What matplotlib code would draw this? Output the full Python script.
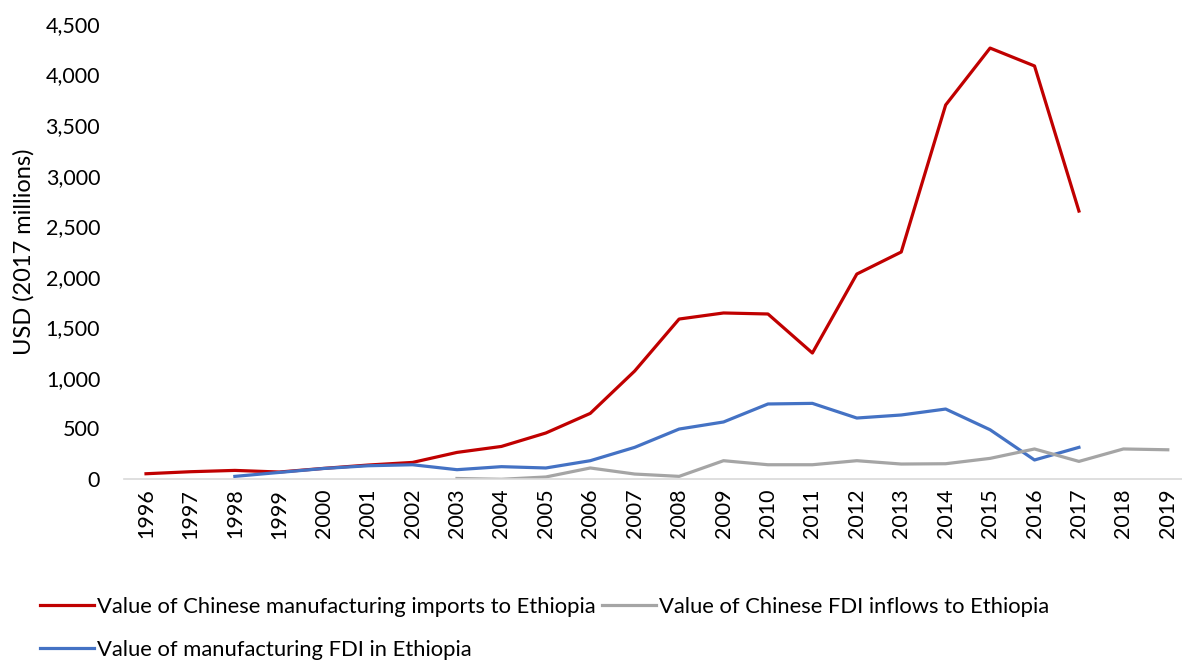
import numpy as np
import matplotlib.pyplot as plt

plt.rcParams['font.family'] = ['Lato', 'DejaVu Sans']

years = [str(y) for y in range(1996, 2020)]

# 中国制造业进口到埃塞俄比亚 (1996-2017)
imports_cn = [52, 72, 85, 69, 105, 138, 164, 263, 322, 455, 649, 1068, 1582, 1642,
              1632, 1246, 2027, 2245, 3699, 4262, 4085, 2650]
# 埃塞俄比亚制造业FDI (1998-2017)
fdi_mfg = [26, 65, 104, 131, 141, 92, 122, 109, 181, 313, 494, 564, 742, 748,
           603, 633, 692, 487, 188, 313]
# 中国FDI流入 (2003-2019)
fdi_cn = [5, -3, 20, 109, 49, 26, 181, 141, 141, 181, 148, 151, 204, 297, 174, 297, 289]

x = np.arange(len(years))

fig = plt.figure(figsize=(11.82, 6.61), dpi=100)
ax = fig.add_axes([123.8 / 1182, 1 - 479 / 661, (1190 - 123.8) / 1182, 455 / 661])

l1, = ax.plot(x[:len(imports_cn)], imports_cn, color='#C00000', lw=2.3,
              label='Value of Chinese manufacturing imports to Ethiopia')
l2, = ax.plot(x[2:2 + len(fdi_mfg)], fdi_mfg, color='#4472C4', lw=2.3,
              label='Value of manufacturing FDI in Ethiopia')
l3, = ax.plot(x[7:7 + len(fdi_cn)], fdi_cn, color='#A5A5A5', lw=2.3,
              label='Value of Chinese FDI inflows to Ethiopia')

ax.set_xlim(-0.5, len(years) - 0.5)
ax.set_ylim(0, 4500)
ax.set_yticks(np.arange(0, 4501, 500))
ax.set_yticklabels([f'{v:,}' for v in range(0, 4501, 500)])
ax.set_xticks(x)
ax.set_xticklabels(years, rotation=90)
ax.tick_params(axis='both', length=0, labelsize=15.5, colors='#000000')
ax.tick_params(axis='y', pad=17)
ax.tick_params(axis='x', pad=7)

for s in ['top', 'right', 'left']:
    ax.spines[s].set_visible(False)
ax.spines['bottom'].set_color('#D9D9D9')
ax.spines['bottom'].set_linewidth(1.2)

ax.set_ylabel('USD (2017 millions)', fontsize=17, labelpad=8)

fig.legend(handles=[l1, l2, l3], ncol=2, loc='upper left',
           bbox_to_anchor=(20 / 1182, 1 - 577 / 661), frameon=False,
           fontsize=15.8, handlelength=2.45, handletextpad=0.15,
           columnspacing=0.3, labelspacing=1.05)

fig.savefig('out.png', dpi=100)
